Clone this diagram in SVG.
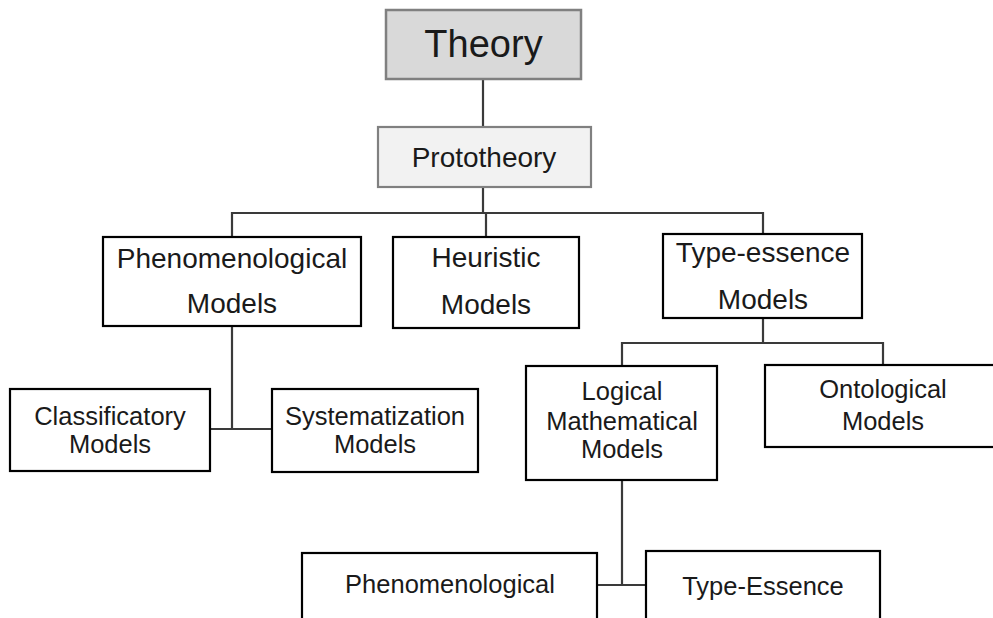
<svg xmlns="http://www.w3.org/2000/svg" width="993" height="618" viewBox="0 0 993 618">
  <style>
    .box { fill: #ffffff; stroke: #000000; stroke-width: 2.2; }
    .top { fill: #d9d9d9; stroke: #808080; stroke-width: 2.5; }
    .proto { fill: #f2f2f2; stroke: #808080; stroke-width: 2.2; }
    .wire { fill: none; stroke: #3a3a3a; stroke-width: 2.2; }
    text { font-family: "Liberation Sans", Arial, sans-serif; fill: #1a1a1a; text-anchor: middle; }
    .t38 { font-size: 38px; }
    .t28 { font-size: 28px; }
    .t26 { font-size: 25.5px; }
  </style>
  <rect width="993" height="618" fill="#ffffff"/>

  <!-- connectors -->
  <g id="connectors">
    <path class="wire" d="M483 79 V187"/>
    <path class="wire" d="M483 187 V213 M232 237 V213 H763 V234 M486 213 V237"/>
    <path class="wire" d="M232 326 V429 M210 429 H272"/>
    <path class="wire" d="M763 318 V343 M622 366 V343 H883 V365"/>
    <path class="wire" d="M622 480 V585 M597 585 H646"/>
  </g>

  <g id="theory">
    <rect class="top" x="386" y="10" width="195" height="69"/>
    <text class="t38" x="483.5" y="57">Theory</text>
  </g>

  <g id="prototheory">
    <rect class="proto" x="378" y="127" width="213" height="60"/>
    <text class="t28" x="484" y="167">Prototheory</text>
  </g>

  <g id="phenomenological-models">
    <rect class="box" x="103" y="237" width="258" height="89"/>
    <text class="t28" x="232" y="268">Phenomenological</text>
    <text class="t28" x="232" y="313">Models</text>
  </g>

  <g id="heuristic-models">
    <rect class="box" x="393" y="237" width="186" height="91"/>
    <text class="t28" x="486" y="267">Heuristic</text>
    <text class="t28" x="486" y="314">Models</text>
  </g>

  <g id="type-essence-models">
    <rect class="box" x="663" y="234" width="199" height="84"/>
    <text class="t28" x="763" y="262">Type-essence</text>
    <text class="t28" x="763" y="309">Models</text>
  </g>

  <g id="classificatory-models">
    <rect class="box" x="10" y="389" width="200" height="82"/>
    <text class="t26" x="110" y="425">Classificatory</text>
    <text class="t26" x="110" y="453">Models</text>
  </g>

  <g id="systematization-models">
    <rect class="box" x="272" y="389" width="206" height="83"/>
    <text class="t26" x="375" y="425">Systematization</text>
    <text class="t26" x="375" y="453">Models</text>
  </g>

  <g id="logical-mathematical-models">
    <rect class="box" x="526" y="366" width="191" height="114"/>
    <text class="t26" x="622" y="400">Logical</text>
    <text class="t26" x="622" y="430">Mathematical</text>
    <text class="t26" x="622" y="458">Models</text>
  </g>

  <g id="ontological-models">
    <rect class="box" x="765" y="365" width="236" height="82"/>
    <text class="t26" x="883" y="398">Ontological</text>
    <text class="t26" x="883" y="430">Models</text>
  </g>

  <g id="phenomenological">
    <rect class="box" x="302" y="553" width="295" height="80"/>
    <text class="t26" x="450" y="593">Phenomenological</text>
  </g>

  <g id="type-essence">
    <rect class="box" x="646" y="551" width="234" height="80"/>
    <text class="t26" x="763" y="595">Type-Essence</text>
  </g>
</svg>
